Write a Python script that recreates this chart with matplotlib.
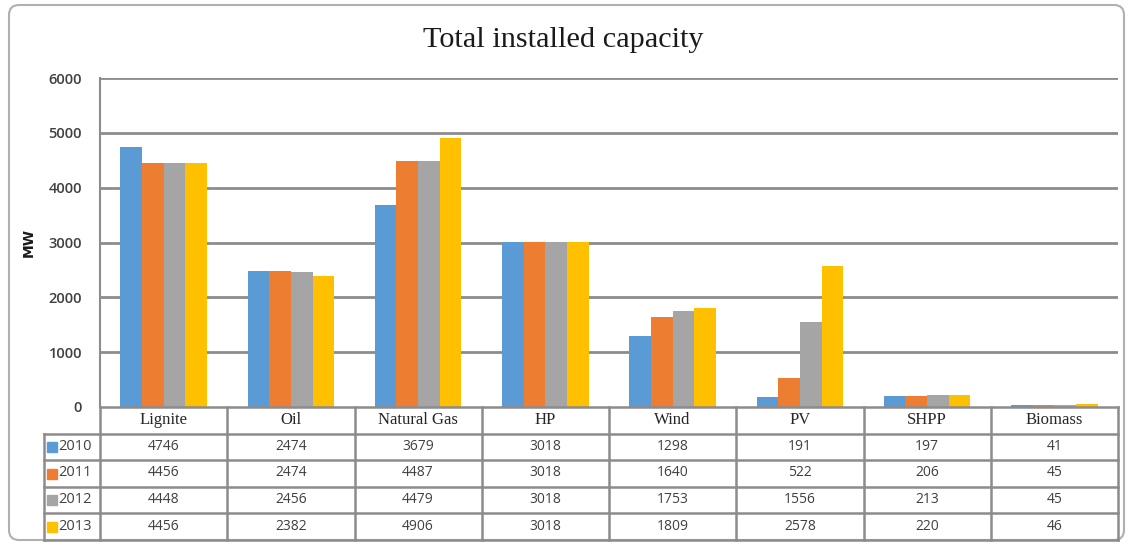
import numpy as np
import matplotlib.pyplot as plt
from matplotlib.patches import FancyBboxPatch

# Installed capacity (MW) per source and year
sources = ["Lignite", "Oil", "Natural Gas", "HP", "Wind", "PV", "SHPP", "Biomass"]
years = ["2010", "2011", "2012", "2013"]
cap_2010 = [4746, 2474, 3679, 3018, 1298, 191, 197, 41]
cap_2011 = [4456, 2474, 4487, 3018, 1640, 522, 206, 45]
cap_2012 = [4448, 2456, 4479, 3018, 1753, 1556, 213, 45]
cap_2013 = [4456, 2382, 4906, 3018, 1809, 2578, 220, 46]
yticks = [0, 1000, 2000, 3000, 4000, 5000, 6000]

series = [cap_2010, cap_2011, cap_2012, cap_2013]
colors = ["#5B9BD5", "#ED7D31", "#A5A5A5", "#FFC000"]
grid_col = "#8c8c8c"
W, H = 1133, 545

fig = plt.figure(figsize=(W / 100, H / 100), dpi=100)

# outer chart frame
frame = FancyBboxPatch((9, 5), W - 18, H - 10,
                       boxstyle="round,pad=0,rounding_size=10",
                       transform=None, facecolor="none",
                       edgecolor="#b0b0b0", linewidth=1.5, zorder=-1)
fig.patches.append(frame)

fig.text(0.497, 1 - 40 / H, "Total installed capacity", ha="center", va="center",
         family="Liberation Serif", fontsize=21.8, color="#1a1a1a")

# --- bar area ---
x_left, x_right = 100, 1118
y_top, y_zero = 78, 407
ax = fig.add_axes([x_left / W, 1 - y_zero / H, (x_right - x_left) / W, (y_zero - y_top) / H])
ax.patch.set_alpha(0)
x = np.arange(len(sources))
bw = 0.17
for i, vals in enumerate(series):
    ax.bar(x + (i - 1.5) * bw, vals, width=bw, color=colors[i], zorder=3)

ax.set_xlim(-0.5, len(sources) - 0.5)
ax.set_ylim(0, 6000)
ax.set_yticks(yticks)
ax.set_yticklabels([str(t) for t in yticks], family="Open Sans", fontweight="semibold",
                   fontsize=10.5, color="#404040")
ax.set_xticks([])
ax.tick_params(axis="y", length=0, pad=13)
for t in yticks[1:]:
    ax.axhline(t, color=grid_col, lw=2, zorder=1)
for s in ["top", "right", "bottom"]:
    ax.spines[s].set_visible(False)
ax.spines["left"].set_color(grid_col)
ax.spines["left"].set_linewidth(1.5)
ax.set_ylabel("MW", family="DejaVu Sans", fontweight="bold", fontsize=10,
              color="#1a1a1a")
ax.yaxis.set_label_coords(-0.063, 0.5)

# --- data table under the bars ---
t_left, t_bottom = 44, 540
unit = (x_right - x_left) / len(sources)
leg_w = (x_left - t_left) / unit
tax = fig.add_axes([t_left / W, 1 - t_bottom / H, (x_right - t_left) / W, (t_bottom - y_zero) / H])
tax.set_xlim(-0.5 - leg_w, len(sources) - 0.5)
tax.set_ylim(len(years) + 1, 0)
tax.axis("off")

lw = 1.8
tax.plot([-0.5, len(sources) - 0.5], [0, 0], color=grid_col, lw=lw, clip_on=False)
for r in range(1, len(years) + 2):
    tax.plot([-0.5 - leg_w, len(sources) - 0.5], [r, r], color=grid_col, lw=lw, clip_on=False)
for c in range(len(sources) + 1):
    tax.plot([c - 0.5, c - 0.5], [0, len(years) + 1], color=grid_col, lw=lw, clip_on=False)
tax.plot([-0.5 - leg_w] * 2, [1, len(years) + 1], color=grid_col, lw=lw, clip_on=False)

for c, name in enumerate(sources):
    tax.text(c, 0.5, name, ha="center", va="center", family="Liberation Serif",
             fontsize=12, color="#262626")

for r, (yr, vals) in enumerate(zip(years, series), start=1):
    tax.plot(-0.5 - leg_w + 0.06, r + 0.5, marker="s", ms=6.5, color=colors[r - 1],
             clip_on=False)
    tax.text(-0.5 - leg_w + 0.11, r + 0.48, yr, ha="left", va="center",
             family="Open Sans", fontsize=10.5, color="#404040")
    for c, v in enumerate(vals):
        tax.text(c, r + 0.48, str(v), ha="center", va="center",
                 family="Open Sans", fontsize=10, color="#404040")

fig.savefig("out.png", dpi=100)
